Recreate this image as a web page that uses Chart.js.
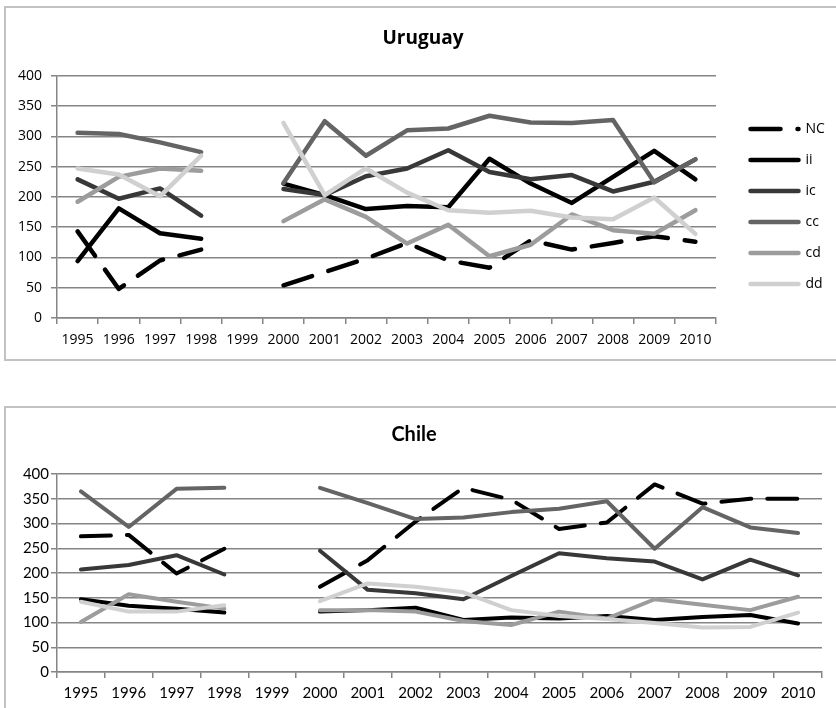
<!DOCTYPE html>
<html lang="en">
<head>
<meta charset="UTF-8">
<title>Uruguay / Chile</title>
<script src="https://cdn.jsdelivr.net/npm/chart.js"></script>
<style>
  html, body { margin: 0; padding: 0; background: #fff; overflow: hidden; }
  .box { position: absolute; left: 4px; width: 834px; border: 2px solid #c2c2c2; background: #fff; }
  #box1 { top: 6px; height: 351px; }
  #box2 { top: 406px; height: 300px; }
  canvas { display: block; }
</style>
</head>
<body>
<div class="box" id="box1"><canvas id="uruguay" width="834" height="351"></canvas></div>
<div class="box" id="box2"><canvas id="chile" width="834" height="300"></canvas></div>
<script>
// categories (1999 has no data)
const years = ['1995', '1996', '1997', '1998', '1999', '2000', '2001', '2002',
               '2003', '2004', '2005', '2006', '2007', '2008', '2009', '2010'];
const seriesNames = ['NC', 'ii', 'ic', 'cc', 'cd', 'dd'];
const yMax = 400;
const yStep = 50;

// Uruguay
const uyNC = [143, 48, 95, 113, null, 54, 76, 98, 124, 95, 83, 128, 113, 124, 135, 126];
const uyII = [94, 181, 140, 131, null, 222, 203, 180, 185, 183, 263, 222, 190, 233, 276, 229];
const uyIC = [229, 197, 214, 169, null, 213, 203, 234, 247, 277, 241, 229, 236, 209, 225, 262];
const uyCC = [306, 304, 290, 274, null, 223, 325, 268, 310, 313, 334, 323, 322, 327, 224, 262];
const uyCD = [192, 233, 247, 243, null, 160, 196, 167, 123, 154, 102, 121, 171, 145, 139, 178];
const uyDD = [247, 237, 201, 268, null, 322, 203, 247, 207, 178, 174, 177, 166, 163, 199, 139];

// Chile
const clNC = [274, 277, 199, 249, null, 172, 226, 304, 372, 348, 289, 302, 379, 340, 350, 350];
const clII = [147, 134, 128, 120, null, 122, 125, 130, 105, 110, 108, 113, 105, 111, 115, 98];
const clIC = [207, 216, 236, 197, null, 245, 166, 159, 147, 194, 240, 230, 223, 187, 227, 195];
const clCC = [365, 293, 370, 372, null, 372, 341, 309, 312, 323, 330, 345, 249, 333, 292, 281];
const clCD = [101, 157, 142, 128, null, 125, 125, 122, 103, 95, 122, 108, 147, 136, 125, 152];
const clDD = [142, 122, 122, 135, null, 143, 179, 172, 161, 125, 113, 107, 99, 90, 91, 120];

const lineColors = ['#000000', '#000000', '#383838', '#646464', '#9c9c9c', '#d0d0d0'];
const gridColor = '#858585';

// moves the legend and forces its width (Chart.js has no option for that)
const legendPlace = {
    id: 'legendPlace',
    beforeLayout(chart, args, opts) {
        const lg = chart.legend;
        if (lg && opts.width && !lg._fixed) {
            const fit = lg.fit;
            lg.fit = function() { fit.call(this); this.width = opts.width; };
            lg._fixed = true;
        }
    },
    afterLayout(chart, args, opts) {
        const lg = chart.legend;
        if (!lg || !opts.width) return;
        lg.left += opts.dx; lg.right += opts.dx;
        lg.top += opts.dy; lg.bottom += opts.dy;
    }
};

// legend samples use the point style, so copy the dash back from the dataset
function legendLabels(chart) {
    const items = Chart.defaults.plugins.legend.labels.generateLabels(chart);
    items.forEach(it => {
        const ds = chart.data.datasets[it.datasetIndex];
        it.lineDash = ds.borderDash;
        it.lineCap = 'round';
        it.lineWidth = ds.borderWidth;
    });
    return items;
}

function makeChart(id, series, cfg) {
    const tickFont = { family: cfg.font, size: cfg.tickSize };
    return new Chart(document.getElementById(id), {
        type: 'line',
        data: {
            labels: years,
            datasets: series.map((vals, i) => ({
                label: seriesNames[i],
                data: vals,
                borderColor: lineColors[i],
                backgroundColor: lineColors[i],
                borderWidth: cfg.lineWidth,
                borderDash: i === 0 ? cfg.dash : [],
                borderCapStyle: 'round',
                borderJoinStyle: 'round',
                pointRadius: 0,
                tension: 0,
                spanGaps: false,
                order: seriesNames.length - i
            }))
        },
        options: {
            responsive: false,
            animation: false,
            devicePixelRatio: 1,
            layout: { padding: { left: 0, top: 0, bottom: 0, right: cfg.padRight } },
            scales: {
                x: {
                    offset: true,
                    grid: { drawOnChartArea: false, offset: true, tickLength: 6, color: gridColor, lineWidth: 1.5 },
                    border: { color: gridColor, width: 1.5 },
                    ticks: { color: '#000', font: tickFont, padding: cfg.xPad, maxRotation: 0, autoSkip: false },
                    afterFit(scale) { scale.height = cfg.xHeight; }
                },
                y: {
                    min: 0,
                    max: yMax,
                    grid: { color: gridColor, lineWidth: 1.5, tickLength: 6 },
                    border: { color: gridColor, width: 1.5 },
                    ticks: { stepSize: yStep, color: '#000', font: tickFont, padding: cfg.yPad },
                    afterFit(scale) { scale.width = 51; }
                }
            },
            plugins: {
                title: {
                    display: true,
                    text: cfg.title,
                    color: '#000',
                    font: { family: cfg.font, size: cfg.titleSize, weight: 'bold' },
                    padding: cfg.titlePad
                },
                legend: {
                    display: cfg.legend,
                    position: 'right',
                    labels: {
                        usePointStyle: true,
                        pointStyle: 'line',
                        pointStyleWidth: 48,
                        padding: 17,
                        color: '#000',
                        font: { family: cfg.font, size: 14 },
                        generateLabels: legendLabels,
                        sort: (a, b) => a.datasetIndex - b.datasetIndex
                    }
                },
                legendPlace: cfg.legend ? { width: 124, dx: 17.5, dy: 23 } : {},
                tooltip: { enabled: false }
            }
        },
        plugins: [legendPlace]
    });
}

makeChart('uruguay', [uyNC, uyII, uyIC, uyCC, uyCD, uyDD], {
    title: 'Uruguay', font: 'Open Sans', titleSize: 19, tickSize: 14,
    titlePad: { top: 19, bottom: 26 }, xHeight: 41, xPad: 8, yPad: 9,
    lineWidth: 4.5, dash: [30, 17], legend: true, padRight: 0
});

makeChart('chile', [clNC, clII, clIC, clCC, clCD, clDD], {
    title: 'Chile', font: 'Lato', titleSize: 20, tickSize: 15,
    titlePad: { top: 15, bottom: 27 }, xHeight: 36, xPad: 6, yPad: 2,
    lineWidth: 4, dash: [30, 16], legend: false, padRight: 18
});
</script>
</body>
</html>
